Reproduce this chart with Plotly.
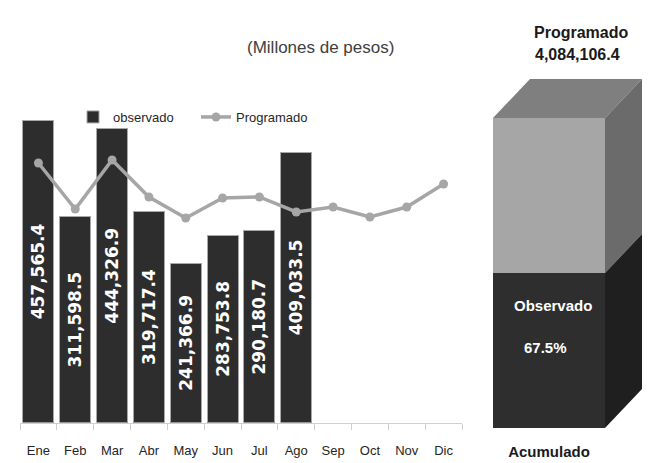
import plotly.graph_objects as go

# the page body has an 8px margin, so the figure is drawn 8px in and
# every position below is taken from the reference picture minus that offset
OFF = 8
W, H = 651 - OFF, 463 - OFF

# --- data ---
meses = ["Ene", "Feb", "Mar", "Abr", "May", "Jun", "Jul", "Ago", "Sep", "Oct", "Nov", "Dic"]
observado = [457565.4, 311598.5, 444326.9, 319717.4, 241366.9, 283753.8, 290180.7, 409033.5]
programado = [392700, 323100, 397200, 341300, 309500, 339700, 341300, 318600,
              326100, 311000, 326100, 360900]
programado_total = 4084106.4
acumulado_cat = ["Acumulado"]

observado_total = sum(observado)
pct = observado_total / programado_total * 100


def px_x(p):
    return (p - OFF) / W


def px_y(p):
    return (H - (p - OFF)) / H


FONT_N = "Liberation Sans Narrow, Liberation Sans"

fig = go.Figure()

# monthly bars
fig.add_trace(go.Bar(
    x=meses[:len(observado)],
    y=observado,
    name="observado",
    marker=dict(color="#2d2d2d", line=dict(color="#a8a8a8", width=1)),
    text=[f"<b>{v:,.1f}</b>" for v in observado],
    textposition="inside",
    insidetextanchor="middle",
    textangle=-90,
    insidetextfont=dict(family="DejaVu Sans", size=17, color="white"),
    hovertemplate="%{x}: %{y:,.1f}<extra></extra>",
    xaxis="x", yaxis="y",
))

# programmed line
fig.add_trace(go.Scatter(
    x=meses,
    y=programado,
    name="Programado",
    mode="lines+markers",
    line=dict(color="#a6a6a6", width=3.5),
    marker=dict(color="#a6a6a6", size=9),
    xaxis="x", yaxis="y",
))

# accumulated column, front faces as stacked bars
BX = 59      # centre of front face on x2
BW = 112     # front face width
DX = 37      # depth offset (x2 units = px)
Y2_MIN = 1431000
Y2_MAX = 4495000
DY = 333800  # depth offset in y2 units

fig.add_trace(go.Bar(
    x=[BX], y=[observado_total], width=[BW],
    marker=dict(color="#2e2e2e", line=dict(width=0)),
    showlegend=False, hoverinfo="skip",
    xaxis="x2", yaxis="y2",
))
fig.add_trace(go.Bar(
    x=[BX], y=[programado_total - observado_total], width=[BW],
    marker=dict(color="#a6a6a6", line=dict(width=0)),
    showlegend=False, hoverinfo="skip",
    xaxis="x2", yaxis="y2",
))

x0, x1 = BX - BW / 2, BX + BW / 2


def poly(pts):
    return "M " + " L ".join(f"{a},{b}" for a, b in pts) + " Z"


faces = [
    # top
    ([(x0, programado_total), (x1, programado_total),
      (x1 + DX, programado_total + DY), (x0 + DX, programado_total + DY)], "#7f7f7f"),
    # right side, programado part
    ([(x1, observado_total), (x1 + DX, observado_total + DY),
      (x1 + DX, programado_total + DY), (x1, programado_total)], "#6b6b6b"),
    # right side, observado part
    ([(x1, Y2_MIN), (x1 + DX, Y2_MIN + DY),
      (x1 + DX, observado_total + DY), (x1, observado_total)], "#1f1f1f"),
]
shapes = [dict(type="path", path=poly(p), xref="x2", yref="y2",
               fillcolor=c, line=dict(width=0), layer="above") for p, c in faces]


def label(text, x, y, size, color, family=FONT_N):
    return dict(text=text, x=px_x(x), y=px_y(y), xref="paper", yref="paper",
                xanchor="center", yanchor="middle", showarrow=False,
                font=dict(family=family, size=size, color=color))


annotations = [
    label("(Millones de pesos)", 320, 47, 17, "#404040", "Liberation Sans"),
    label("<b>Programado</b>", 581, 32, 16, "#1a1a1a"),
    label(f"<b>{programado_total:,.1f}</b>", 577, 55, 16, "#1a1a1a"),
    label("<b>Observado</b>", 553, 305, 15, "white"),
    label(f"<b>{pct:.1f}%</b>", 545, 347, 15, "white"),
]

fig.update_layout(
    width=W, height=H,
    margin=dict(l=0, r=0, t=0, b=0),
    paper_bgcolor="white", plot_bgcolor="white",
    barmode="stack",
    bargap=0.16,
    showlegend=True,
    legend=dict(
        orientation="h", traceorder="normal",
        x=px_x(73), y=px_y(117), xanchor="left", yanchor="middle",
        entrywidth=78, entrywidthmode="pixels",
        font=dict(family=FONT_N, size=13, color="#262626"),
        bgcolor="rgba(0,0,0,0)", itemwidth=30,
    ),
    xaxis=dict(
        domain=[px_x(20), px_x(462)],
        type="category", categoryorder="array", categoryarray=meses,
        range=[-0.5, len(meses) - 0.5],
        showline=True, linecolor="#d0d0d0", linewidth=1,
        ticks="outside", tickson="boundaries", ticklen=6, tickcolor="#d0d0d0",
        tickfont=dict(family=FONT_N, size=13, color="#262626"),
        ticklabelstandoff=16,
        showgrid=False, zeroline=False, automargin=False,
    ),
    yaxis=dict(
        domain=[px_y(422.7), px_y(70)],
        range=[0, 533300],
        visible=False, automargin=False,
    ),
    xaxis2=dict(
        domain=[px_x(490), px_x(650)],
        range=[0, 160],
        tickvals=[BX], ticktext=[f"<b>{c}</b>" for c in acumulado_cat],
        ticks="", showline=False, showgrid=False, zeroline=False,
        tickfont=dict(family=FONT_N, size=15, color="#1a1a1a"),
        ticklabelstandoff=13, automargin=False,
        anchor="y2",
    ),
    yaxis2=dict(
        domain=[px_y(428), px_y(70)],
        range=[Y2_MIN, Y2_MAX],
        visible=False, automargin=False,
        anchor="x2",
    ),
    shapes=shapes,
    annotations=annotations,
)

fig.write_html("out.html")
